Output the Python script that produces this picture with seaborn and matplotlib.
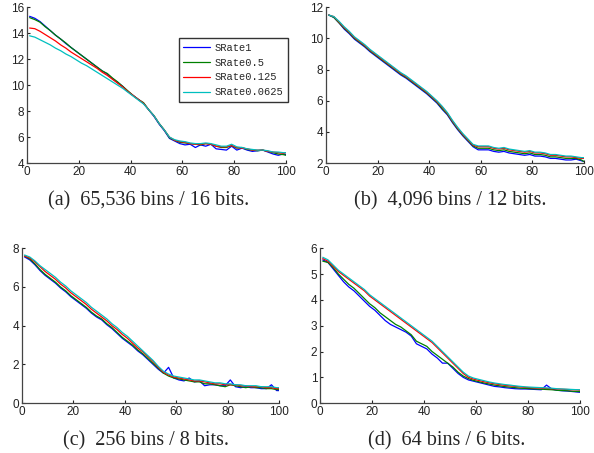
#! /usr/bin/env python3

import matplotlib
matplotlib.use('Agg')
import matplotlib.pyplot as plt
import pandas
import seaborn as sns


x = [1] + list(range(3, 100, 2)) + [100]

series_names = ['SRate1', 'SRate0.5', 'SRate0.125', 'SRate0.0625']
colors = ['#0000ff', '#008000', '#ff0000', '#00bfbf']

# (a) 65,536 bins
a_srate1 = [15.3, 15.15, 14.9, 14.55, 14.2, 13.85, 13.55, 13.2, 12.9, 12.6, 12.3, 12.0, 11.7,
            11.4, 11.1, 10.85, 10.5, 10.2, 9.9, 9.5, 9.2, 8.9, 8.6, 8.1, 7.6, 7.0, 6.5, 5.9,
            5.7, 5.5, 5.4, 5.45, 5.2, 5.4, 5.3, 5.45, 5.1, 5.05, 5.0, 5.3, 5.0, 5.15, 5.0,
            4.9, 4.95, 5.0, 4.85, 4.7, 4.6, 4.7, 4.65]
a_srate05 = [15.2, 15.05, 14.85, 14.5, 14.2, 13.85, 13.55, 13.25, 12.9, 12.6, 12.3, 12.0, 11.7,
             11.4, 11.1, 10.9, 10.55, 10.25, 9.9, 9.55, 9.2, 8.9, 8.65, 8.1, 7.65, 7.05, 6.55,
             5.95, 5.75, 5.6, 5.55, 5.5, 5.45, 5.4, 5.5, 5.45, 5.3, 5.2, 5.2, 5.35, 5.15, 5.2,
             5.05, 5.0, 4.95, 5.0, 4.9, 4.8, 4.7, 4.65, 4.6]
a_srate0125 = [14.4, 14.35, 14.15, 13.9, 13.65, 13.4, 13.1, 12.85, 12.55, 12.3, 12.05, 11.8,
               11.55, 11.3, 11.0, 10.75, 10.45, 10.15, 9.85, 9.5, 9.2, 8.9, 8.6, 8.1, 7.65,
               7.05, 6.55, 6.0, 5.75, 5.65, 5.6, 5.5, 5.45, 5.45, 5.5, 5.45, 5.3, 5.25, 5.25,
               5.35, 5.2, 5.15, 5.1, 5.0, 5.0, 5.0, 4.9, 4.85, 4.8, 4.75, 4.8]
a_srate00625 = [13.8, 13.7, 13.5, 13.3, 13.1, 12.85, 12.65, 12.4, 12.2, 11.95, 11.7, 11.5,
                11.25, 11.0, 10.75, 10.5, 10.25, 10.0, 9.75, 9.45, 9.15, 8.85, 8.55, 8.1,
                7.65, 7.05, 6.55, 6.0, 5.8, 5.7, 5.65, 5.55, 5.5, 5.5, 5.55, 5.5, 5.4, 5.3,
                5.3, 5.45, 5.25, 5.2, 5.1, 5.05, 5.0, 5.0, 4.95, 4.85, 4.85, 4.8, 4.8]

# (b) 4,096 bins
b_srate1 = [11.5, 11.35, 11.0, 10.6, 10.3, 9.95, 9.7, 9.45, 9.15, 8.9, 8.65, 8.4, 8.15, 7.9,
            7.65, 7.45, 7.2, 6.95, 6.7, 6.45, 6.15, 5.85, 5.45, 5.1, 4.6, 4.15, 3.75, 3.4,
            3.05, 2.85, 2.85, 2.85, 2.75, 2.7, 2.75, 2.65, 2.6, 2.55, 2.5, 2.55, 2.45, 2.45,
            2.4, 2.3, 2.3, 2.25, 2.2, 2.2, 2.25, 2.15, 2.1]
b_srate05 = [11.5, 11.35, 11.0, 10.65, 10.35, 10.0, 9.75, 9.5, 9.2, 8.95, 8.7, 8.45, 8.2, 7.95,
             7.7, 7.5, 7.25, 7.0, 6.75, 6.5, 6.2, 5.9, 5.5, 5.15, 4.65, 4.2, 3.8, 3.45, 3.1,
             2.95, 2.95, 2.95, 2.85, 2.8, 2.85, 2.75, 2.7, 2.65, 2.6, 2.65, 2.55, 2.55, 2.5,
             2.4, 2.4, 2.35, 2.3, 2.3, 2.3, 2.2, 2.1]
b_srate0125 = [11.5, 11.4, 11.05, 10.7, 10.4, 10.05, 9.8, 9.55, 9.25, 9.0, 8.75, 8.5, 8.25,
               8.0, 7.75, 7.55, 7.3, 7.05, 6.8, 6.55, 6.25, 5.95, 5.6, 5.2, 4.7, 4.25, 3.85,
               3.5, 3.15, 3.05, 3.05, 3.05, 2.95, 2.9, 2.95, 2.85, 2.8, 2.75, 2.7, 2.75, 2.65,
               2.65, 2.6, 2.5, 2.5, 2.45, 2.4, 2.4, 2.35, 2.3, 2.3]
b_srate00625 = [11.5, 11.4, 11.1, 10.75, 10.45, 10.1, 9.85, 9.6, 9.3, 9.05, 8.8, 8.55, 8.3,
                8.05, 7.8, 7.6, 7.35, 7.1, 6.85, 6.6, 6.3, 6.0, 5.65, 5.25, 4.75, 4.3, 3.9,
                3.55, 3.2, 3.1, 3.1, 3.1, 3.0, 2.95, 3.0, 2.9, 2.85, 2.8, 2.75, 2.8, 2.7, 2.7,
                2.65, 2.55, 2.55, 2.5, 2.45, 2.45, 2.4, 2.35, 2.35]

# (c) 256 bins
c_srate1 = [7.55, 7.4, 7.15, 6.85, 6.6, 6.4, 6.2, 5.95, 5.75, 5.5, 5.3, 5.1, 4.9, 4.65, 4.45,
            4.3, 4.05, 3.85, 3.6, 3.35, 3.15, 2.95, 2.7, 2.5, 2.25, 2.0, 1.75, 1.55, 1.85, 1.3,
            1.2, 1.15, 1.3, 1.1, 1.15, 0.9, 0.95, 0.95, 0.9, 0.9, 1.2, 0.85, 0.8, 0.85, 0.8,
            0.8, 0.75, 0.75, 0.95, 0.65, 0.65]
c_srate05 = [7.6, 7.45, 7.2, 6.9, 6.65, 6.45, 6.25, 6.0, 5.8, 5.55, 5.35, 5.15, 4.95, 4.7, 4.5,
             4.35, 4.1, 3.9, 3.65, 3.4, 3.2, 3.0, 2.75, 2.55, 2.3, 2.05, 1.8, 1.55, 1.4, 1.3,
             1.25, 1.2, 1.15, 1.1, 1.1, 1.0, 1.0, 0.95, 0.9, 0.85, 0.95, 0.9, 0.85, 0.8, 0.85,
             0.8, 0.8, 0.75, 0.75, 0.7, 0.7]
c_srate0125 = [7.6, 7.5, 7.3, 7.05, 6.8, 6.6, 6.4, 6.15, 5.95, 5.7, 5.5, 5.3, 5.1, 4.85, 4.65,
               4.45, 4.25, 4.0, 3.8, 3.55, 3.35, 3.1, 2.85, 2.65, 2.4, 2.15, 1.85, 1.6, 1.45,
               1.35, 1.3, 1.25, 1.2, 1.15, 1.15, 1.1, 1.05, 1.0, 1.0, 0.95, 0.95, 0.95, 0.9,
               0.9, 0.85, 0.85, 0.85, 0.8, 0.8, 0.75, 0.75]
c_srate00625 = [7.65, 7.55, 7.35, 7.1, 6.9, 6.7, 6.5, 6.25, 6.05, 5.8, 5.6, 5.4, 5.2, 4.95,
                4.75, 4.55, 4.35, 4.1, 3.9, 3.65, 3.45, 3.2, 2.95, 2.7, 2.45, 2.2, 1.9, 1.65,
                1.5, 1.4, 1.35, 1.3, 1.25, 1.2, 1.2, 1.15, 1.1, 1.05, 1.05, 1.0, 1.0, 0.95,
                0.95, 0.9, 0.9, 0.9, 0.85, 0.85, 0.85, 0.8, 0.8]

# (d) 64 bins
d_srate1 = [5.55, 5.45, 5.2, 4.95, 4.7, 4.5, 4.35, 4.15, 3.95, 3.75, 3.6, 3.4, 3.2, 3.05, 2.95,
            2.85, 2.75, 2.6, 2.3, 2.2, 2.1, 1.9, 1.75, 1.55, 1.55, 1.35, 1.15, 1.0, 0.9, 0.85,
            0.8, 0.75, 0.7, 0.65, 0.63, 0.6, 0.58, 0.56, 0.55, 0.55, 0.54, 0.53, 0.52, 0.7,
            0.55, 0.5, 0.48, 0.47, 0.45, 0.43, 0.42]
d_srate05 = [5.5, 5.45, 5.25, 5.0, 4.8, 4.6, 4.45, 4.25, 4.05, 3.85, 3.7, 3.5, 3.35, 3.2, 3.05,
             2.95, 2.8, 2.65, 2.4, 2.3, 2.2, 2.0, 1.85, 1.7, 1.55, 1.4, 1.2, 1.05, 0.95, 0.88,
             0.83, 0.78, 0.74, 0.7, 0.67, 0.64, 0.62, 0.6, 0.58, 0.57, 0.56, 0.55, 0.54, 0.53,
             0.52, 0.5, 0.49, 0.48, 0.46, 0.45, 0.45]
d_srate0125 = [5.6, 5.5, 5.3, 5.1, 4.95, 4.8, 4.65, 4.5, 4.35, 4.15, 4.0, 3.85, 3.7, 3.55, 3.4,
               3.25, 3.1, 2.95, 2.8, 2.65, 2.5, 2.35, 2.15, 1.95, 1.75, 1.55, 1.35, 1.15, 1.0,
               0.93, 0.88, 0.83, 0.79, 0.75, 0.72, 0.69, 0.67, 0.65, 0.63, 0.61, 0.6, 0.59,
               0.58, 0.57, 0.56, 0.55, 0.54, 0.53, 0.52, 0.51, 0.5]
d_srate00625 = [5.65, 5.55, 5.35, 5.15, 5.0, 4.85, 4.7, 4.55, 4.4, 4.2, 4.05, 3.9, 3.75, 3.6,
                3.45, 3.3, 3.15, 3.0, 2.85, 2.7, 2.55, 2.4, 2.2, 2.0, 1.8, 1.6, 1.4, 1.2, 1.05,
                0.97, 0.92, 0.87, 0.82, 0.78, 0.75, 0.72, 0.7, 0.67, 0.65, 0.63, 0.62, 0.61,
                0.6, 0.59, 0.58, 0.56, 0.55, 0.54, 0.53, 0.52, 0.52]

captions = ['(a)  65,536 bins / 16 bits.', '(b)  4,096 bins / 12 bits.',
            '(c)  256 bins / 8 bits.', '(d)  64 bins / 6 bits.']
y_limits = [(4, 16), (2, 12), (0, 8), (0, 6)]
y_ticks = [[4, 6, 8, 10, 12, 14, 16], [2, 4, 6, 8, 10, 12],
           [0, 2, 4, 6, 8], [0, 1, 2, 3, 4, 5, 6]]
x_ticks = [0, 20, 40, 60, 80, 100]

panels = [
    [a_srate1, a_srate05, a_srate0125, a_srate00625],
    [b_srate1, b_srate05, b_srate0125, b_srate00625],
    [c_srate1, c_srate05, c_srate0125, c_srate00625],
    [d_srate1, d_srate05, d_srate0125, d_srate00625],
]

# axes rectangles in figure fractions, caption centres
axes_rects = [
    [0.0455, 0.640, 0.436, 0.344],
    [0.549, 0.640, 0.434, 0.344],
    [0.037, 0.110, 0.433, 0.342],
    [0.539, 0.110, 0.438, 0.342],
]
caption_pos = [(0.250, 0.556), (0.758, 0.556), (0.245, 0.026), (0.752, 0.026)]


def long_frame(series):
    rows = []
    for name, values in zip(series_names, series):
        for xi, yi in zip(x, values):
            rows.append({'x': xi, 'y': yi, 'series': name})
    return pandas.DataFrame(rows)


def draw():
    sns.set_style('ticks')
    plt.rcParams['font.family'] = ['Liberation Sans', 'DejaVu Sans']
    fig = plt.figure(figsize=(5.94, 4.53), dpi=100)
    palette = dict(zip(series_names, colors))

    for i, series in enumerate(panels):
        ax = fig.add_axes(axes_rects[i])
        df = long_frame(series)
        sns.lineplot(data=df, x='x', y='y', hue='series', palette=palette,
                     hue_order=series_names, linewidth=0.9, ax=ax,
                     legend=(i == 0))
        ax.set_xlim(0, 100)
        ax.set_ylim(*y_limits[i])
        ax.set_xticks(x_ticks)
        ax.set_yticks(y_ticks[i])
        ax.set_xlabel('')
        ax.set_ylabel('')
        ax.tick_params(direction='in', length=2.5, width=0.8, labelsize=8.5,
                       pad=2, colors='#222222')
        sns.despine(ax=ax)
        for side in ('left', 'bottom'):
            ax.spines[side].set_color('#444444')
            ax.spines[side].set_linewidth(0.9)
        fig.text(caption_pos[i][0], caption_pos[i][1], captions[i],
                 ha='center', va='center', fontsize=14.5,
                 family=['Liberation Serif', 'DejaVu Serif'])
        if i == 0:
            leg = ax.legend(loc='upper left', bbox_to_anchor=(0.585, 0.80),
                            frameon=True, fancybox=False,
                            prop={'family': ['Liberation Mono', 'DejaVu Sans Mono'],
                                  'size': 7.5},
                            handlelength=2.6, borderpad=0.45, labelspacing=0.45,
                            handletextpad=0.4, borderaxespad=0)
            leg.get_frame().set_edgecolor('black')
            leg.get_frame().set_linewidth(1.0)

    fig.savefig('out.png', dpi=100)


if __name__ == '__main__':
    draw()
